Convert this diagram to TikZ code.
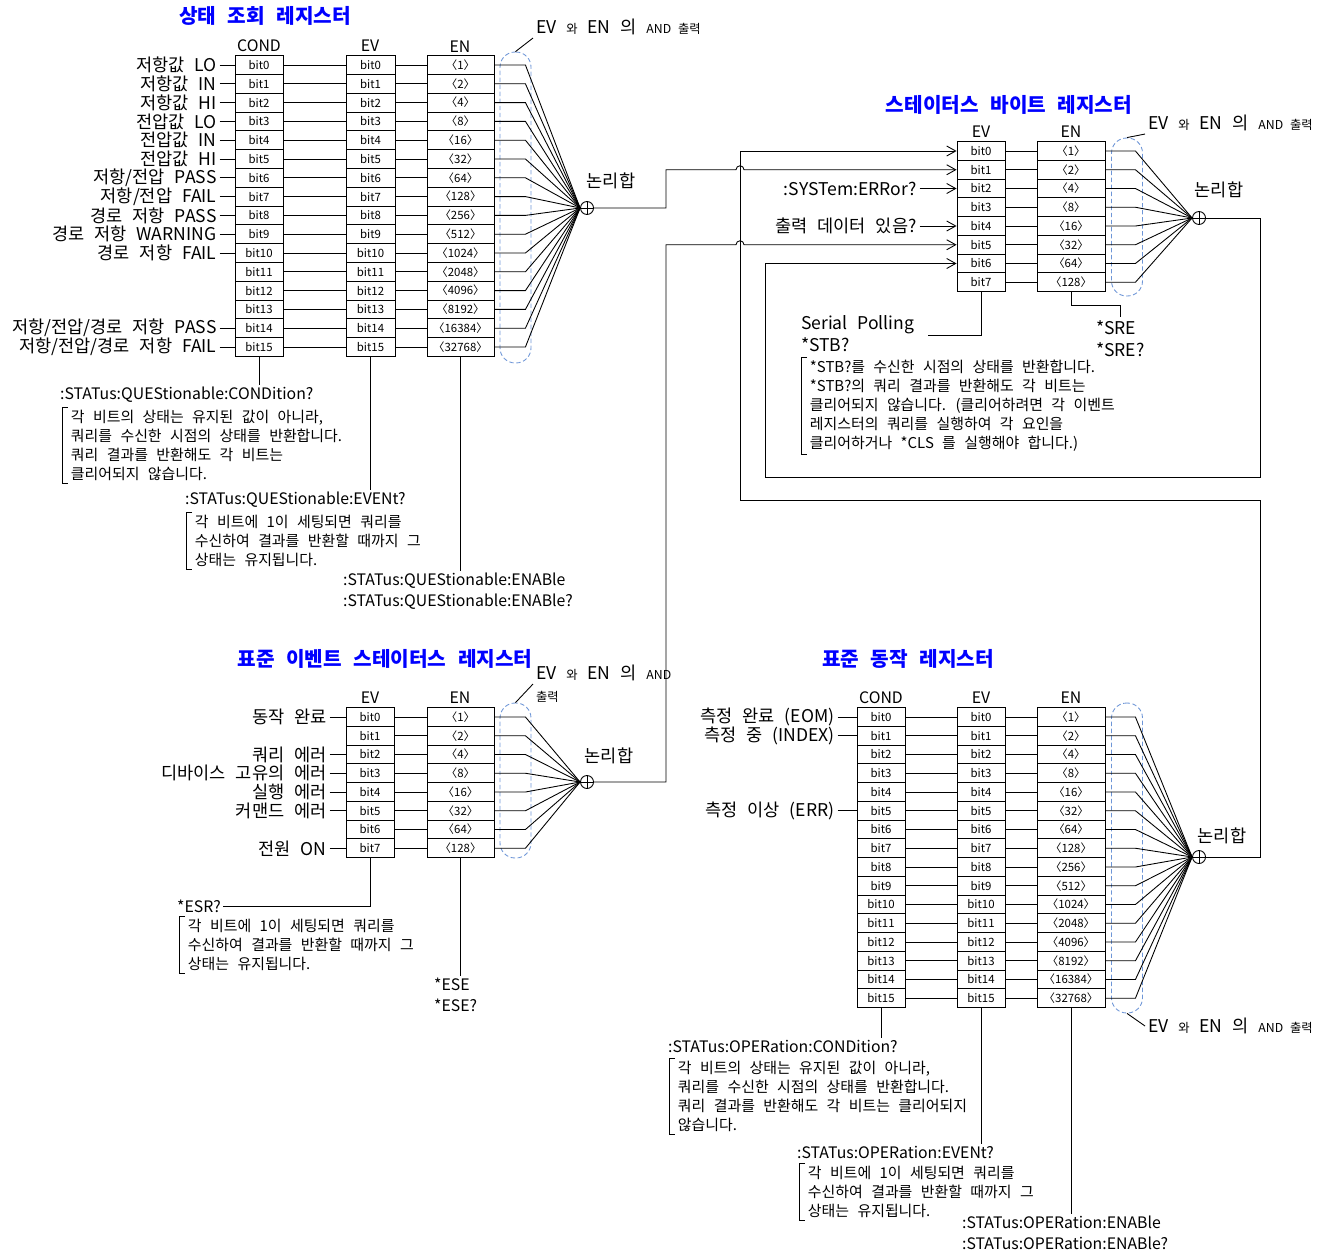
\documentclass[tikz,border=0pt]{standalone}
\usepackage{fontspec}
\setmainfont[WordSpace=2.5]{Noto Sans CJK KR}
\usetikzlibrary{arrows.meta, positioning}
\definecolor{andblue}{RGB}{110,150,215}
\tikzstyle{cell}=[draw,rectangle,minimum height=0.375cm,inner sep=0pt,font=\fontsize{6.5}{7}\selectfont]
\tikzstyle{hdr}=[font=\fontsize{9}{11}\selectfont,inner sep=1pt]
\tikzstyle{lbl}=[font=\fontsize{10}{12.5}\selectfont,inner sep=1.5pt]
\tikzstyle{cmd}=[font=\fontsize{9}{12}\selectfont,inner sep=1pt,align=left]
\tikzstyle{note}=[font=\fontsize{8.5}{10.8}\selectfont,align=left,inner xsep=0.17cm,inner ysep=1.5pt]
\tikzstyle{ttl}=[text=blue,font=\bfseries\fontsize{11.5}{13}\selectfont]
\tikzstyle{orgate}=[draw,circle,minimum size=0.26cm,inner sep=0pt]
\tikzstyle{andbox}=[draw=andblue,dash pattern=on 2.5pt off 1.5pt,rounded corners=0.3cm,minimum width=0.62cm,inner sep=0pt]
\newcommand{\sm}[1]{{\fontsize{7}{8}\selectfont #1}}
\newcommand{\envals}{0/1,1/2,2/4,3/8,4/16,5/32,6/64,7/128,8/256,9/512,10/1024,11/2048,12/4096,13/8192,14/16384,15/32768}
\newcommand{\bracket}[1]{\draw ([xshift=0.12cm]#1.north west) -- (#1.north west) -- (#1.south west) -- ([xshift=0.12cm]#1.south west);}

\begin{document}
\begin{tikzpicture}[x=0.02cm,y=-0.02cm,line width=0.5pt,>={Straight Barb[length=0.18cm,width=0.2cm]}]
    \useasboundingbox (0,0) rectangle (1328,1257);

    % questionable status register
    \node[ttl] (qtitle) at (265,16) {상태 조회 레지스터};
    \node[hdr] (qchdr) at (259,46) {COND};
    \node[hdr] (qvhdr) at (370,46) {EV};
    \node[hdr] (qnhdr) at (460,47) {EN};
    \node[andbox, minimum height=6.22cm] (qand) at (515.5,207.5) {};
    \node[orgate] (qor) at (587,208) {};
    \draw (qor.north) -- (qor.south) (qor.west) -- (qor.east);
    \node[lbl] (qorlbl) at (611,181) {논리합};
    \node[lbl, anchor=west] (qandlbl) at (533,27) {EV \sm{와} EN 의 \sm{AND 출력}};
    \draw (qand.north) -- (qandlbl.south west);
    \foreach \i/\v in \envals {
        \node[cell, minimum width=0.96cm] (qc\i) at (259,{65+18.8*\i}) {bit\i};
        \node[cell, minimum width=0.98cm] (qv\i) at (370.5,{65+18.8*\i}) {bit\i};
        \node[cell, minimum width=1.34cm] (qn\i) at (460.5,{65+18.8*\i}) {〈\v〉};
        \draw (qc\i) -- (qv\i);
        \draw (qv\i) -- (qn\i);
        \draw (qn\i.east) -- ++(31,0) -- (qor.west);
    }
    \foreach \i/\t in {0/{저항값 LO}, 1/{저항값 IN}, 2/{저항값 HI}, 3/{전압값 LO}, 4/{전압값 IN}, 5/{전압값 HI},
        6/{저항/전압 PASS}, 7/{저항/전압 FAIL}, 8/{경로 저항 PASS}, 9/{경로 저항 WARNING}, 10/{경로 저항 FAIL},
        14/{저항/전압/경로 저항 PASS}, 15/{저항/전압/경로 저항 FAIL}} {
        \node[lbl, anchor=east] (ql\i) at ([xshift=-0.3cm]qc\i.west) {\t};
        \draw (ql\i) -- (qc\i);
    }
    \node[cmd, anchor=west] (qcondq) at (58,395) {:STATus:QUEStionable:CONDition?};
    \node[note, anchor=north west] (qcnote) at (62,407) {각 비트의 상태는 유지된 값이 아니라,\\쿼리를 수신한 시점의 상태를 반환합니다.\\쿼리 결과를 반환해도 각 비트는\\클리어되지 않습니다.};
    \bracket{qcnote}
    \node[cmd, anchor=west] (qevq) at (183,500) {:STATus:QUEStionable:EVENt?};
    \node[note, anchor=north west] (qenote) at (186,512) {각 비트에 1이 세팅되면 쿼리를\\수신하여 결과를 반환할 때까지 그\\상태는 유지됩니다.};
    \bracket{qenote}
    \node[cmd, anchor=north west] (qenq) at (341,571) {:STATus:QUEStionable:ENABle\\:STATus:QUEStionable:ENABle?};
    \draw (qc15.south) -- (qc15.south |- qcondq.north);
    \draw (qv15.south) -- (qv15.south |- qevq.north);
    \draw (qn15.south) -- (qn15.south |- qenq.north);

    % status byte register
    \node[ttl] (stitle) at (1009,105) {스테이터스 바이트 레지스터};
    \node[hdr] (svhdr) at (981,132) {EV};
    \node[hdr] (snhdr) at (1071,132) {EN};
    \node[andbox, minimum height=3.16cm] (sand) at (1127,217) {};
    \node[orgate] (sor) at (1199,218) {};
    \draw (sor.north) -- (sor.south) (sor.west) -- (sor.east);
    \node[lbl] (sorlbl) at (1219,190) {논리합};
    \node[lbl, anchor=west] (sandlbl) at (1145,123) {EV \sm{와} EN 의 \sm{AND 출력}};
    \draw (sand.north) -- (sandlbl.south west);
    \foreach \i/\v in {0/1,1/2,2/4,3/8,4/16,5/32,6/64,7/128} {
        \node[cell, minimum width=0.96cm] (sv\i) at (981,{151+18.75*\i}) {bit\i};
        \node[cell, minimum width=1.36cm] (sn\i) at (1071,{151+18.75*\i}) {〈\v〉};
        \draw (sv\i) -- (sn\i);
        \draw (sn\i.east) -- ++(30,0) -- (sor.west);
    }
    \node[lbl, anchor=east] (syserr) at ([xshift=-0.74cm]sv2.west) {:SYSTem:ERRor?};
    \draw[->] (syserr) -- (sv2);
    \node[lbl, anchor=east] (outdata) at ([xshift=-0.74cm]sv4.west) {출력 데이터 있음?};
    \draw[->] (outdata) -- (sv4);
    \draw[->] (sor.east) -- ++(54,0) |- (765,477) |- (sv6.west);
    \node[lbl, align=left, anchor=west] (spoll) at (798,334) {Serial Polling\\*STB?};
    \coordinate (spollend) at (928,335);
    \draw (sv7.south) |- (spollend);
    \node[lbl, align=left, anchor=north west] (sreq) at (1093,317) {*SRE\\*SRE?};
    \draw (sn7.south) -- ++(0,13) -| (1120,0 |- sreq.north);
    \node[note, anchor=north west] (snote) at (801,357) {*STB?를 수신한 시점의 상태를 반환합니다.\\*STB?의 쿼리 결과를 반환해도 각 비트는\\클리어되지 않습니다. (클리어하려면 각 이벤트\\레지스터의 쿼리를 실행하여 각 요인을\\클리어하거나 *CLS 를 실행해야 합니다.)};
    \bracket{snote}

    % standard event status register
    \node[ttl] (etitle) at (385,659) {표준 이벤트 스테이터스 레지스터};
    \node[hdr] (evhdr) at (370,698) {EV};
    \node[hdr] (enhdr) at (460,698) {EN};
    \node[andbox, minimum height=3.1cm] (eand) at (515.5,780.5) {};
    \node[orgate] (eor) at (587,782) {};
    \draw (eor.north) -- (eor.south) (eor.west) -- (eor.east);
    \node[lbl] (eorlbl) at (609,756) {논리합};
    \node[lbl, align=left, anchor=west] (eandlbl) at (533,684) {EV \sm{와} EN 의 \sm{AND}\\\sm{출력}};
    \draw (eand.north) -- (eandlbl.west);
    \foreach \i/\v in {0/1,1/2,2/4,3/8,4/16,5/32,6/64,7/128} {
        \node[cell, minimum width=0.96cm] (ev\i) at (370,{717+18.75*\i}) {bit\i};
        \node[cell, minimum width=1.34cm] (en\i) at (460.5,{717+18.75*\i}) {〈\v〉};
        \draw (ev\i) -- (en\i);
        \draw (en\i.east) -- ++(31,0) -- (eor.west);
    }
    \foreach \i/\t in {0/{동작 완료}, 2/{쿼리 에러}, 3/{디바이스 고유의 에러}, 4/{실행 에러}, 5/{커맨드 에러}, 7/{전원 ON}} {
        \node[lbl, anchor=east] (el\i) at ([xshift=-0.32cm]ev\i.west) {\t};
        \draw (el\i) -- (ev\i);
    }
    \node[cmd, anchor=west] (esrq) at (175,906) {*ESR?};
    \draw (ev7.south) |- (esrq.east);
    \node[note, anchor=north west] (enote) at (179,916) {각 비트에 1이 세팅되면 쿼리를\\수신하여 결과를 반환할 때까지 그\\상태는 유지됩니다.};
    \bracket{enote}
    \node[cmd, anchor=north west] (eseq) at (432,976) {*ESE\\*ESE?};
    \draw (en7.south) -- (en7.south |- eseq.north);
    \draw[->] (eor.east) -- ++(72,0) |- (736,0 |- sv5.west) arc[start angle=180,end angle=0,radius=0.08cm] -- (sv5.west);
    \draw[->] (qor.east) -- ++(72,0) |- (736,0 |- sv1.west) arc[start angle=180,end angle=0,radius=0.08cm] -- (sv1.west);

    % standard operation register
    \node[ttl] (otitle) at (908,659) {표준 동작 레지스터};
    \node[hdr] (ochdr) at (881,698) {COND};
    \node[hdr] (ovhdr) at (981,698) {EV};
    \node[hdr] (onhdr) at (1071,698) {EN};
    \node[andbox, minimum height=6.2cm] (oand) at (1127,858) {};
    \node[orgate] (oor) at (1199,857) {};
    \draw (oor.north) -- (oor.south) (oor.west) -- (oor.east);
    \node[lbl] (oorlbl) at (1222,836) {논리합};
    \node[lbl, anchor=west] (oandlbl) at (1145,1026) {EV \sm{와} EN 의 \sm{AND 출력}};
    \draw (oand.south) -- (oandlbl.west);
    \foreach \i/\v in \envals {
        \node[cell, minimum width=0.96cm] (oc\i) at (881,{717+18.75*\i}) {bit\i};
        \node[cell, minimum width=0.96cm] (ov\i) at (981,{717+18.75*\i}) {bit\i};
        \node[cell, minimum width=1.36cm] (on\i) at (1071,{717+18.75*\i}) {〈\v〉};
        \draw (oc\i) -- (ov\i);
        \draw (ov\i) -- (on\i);
        \draw (on\i.east) -- ++(30,0) -- (oor.west);
    }
    \foreach \i/\t in {0/{측정 완료 (EOM)}, 1/{측정 중 (INDEX)}, 5/{측정 이상 (ERR)}} {
        \node[lbl, anchor=east] (ol\i) at ([xshift=-0.38cm]oc\i.west) {\t};
        \draw (ol\i) -- (oc\i);
    }
    \node[cmd, anchor=west] (ocondq) at (666,1046) {:STATus:OPERation:CONDition?};
    \node[note, anchor=north west] (ocnote) at (669,1058) {각 비트의 상태는 유지된 값이 아니라,\\쿼리를 수신한 시점의 상태를 반환합니다.\\쿼리 결과를 반환해도 각 비트는 클리어되지\\않습니다.};
    \bracket{ocnote}
    \node[cmd, anchor=west] (oevq) at (795,1152) {:STATus:OPERation:EVENt?};
    \node[note, anchor=north west] (oenote) at (799,1163) {각 비트에 1이 세팅되면 쿼리를\\수신하여 결과를 반환할 때까지 그\\상태는 유지됩니다.};
    \bracket{oenote}
    \node[cmd, anchor=north west] (oenq) at (960,1214) {:STATus:OPERation:ENABle\\:STATus:OPERation:ENABle?};
    \draw (oc15.south) -- (oc15.south |- ocondq.north);
    \draw (ov15.south) -- (ov15.south |- oevq.north);
    \draw (on15.south) -- (on15.south |- oenq.north);
    \draw[->] (oor.east) -- ++(54,0) |- (740,500) |- (sv0.west);
\end{tikzpicture}
\end{document}
